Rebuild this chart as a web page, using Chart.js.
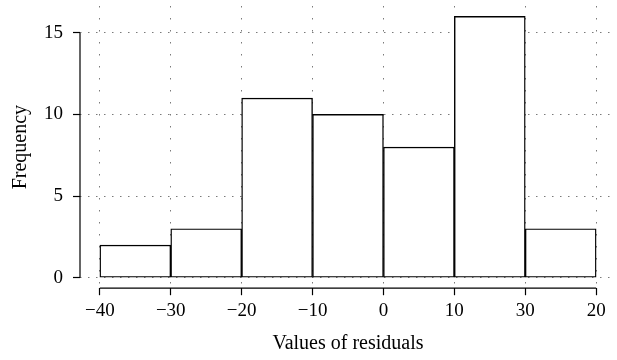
<!DOCTYPE html>
<html><head><meta charset="utf-8">
<script src="https://cdn.jsdelivr.net/npm/chart.js@4/dist/chart.umd.min.js"></script>
<style>html,body{margin:0;padding:0;background:#fff}#wrap{width:617px;height:360px}</style>
</head><body><div id="wrap"><canvas id="c"></canvas></div>
<script>
const binEdgeLabels = ["\u221240","\u221230","\u221220","\u221210","0","10","30","20"];
const frequencies = [2, 3, 11, 10, 8, 16, 3];
const yTickValues = [0, 5, 10, 15];
const xTitle = "Values of residuals";
const yTitle = "Frequency";

const FONT = "'Liberation Serif', 'DejaVu Serif', serif";
const points = frequencies.map((v, i) => ({x: i + 0.5, y: v}));

const axisLines = {
  id: 'axisLines',
  afterDraw(chart) {
    const {ctx, chartArea, scales: {x, y}} = chart;
    ctx.save();
    ctx.strokeStyle = '#000';
    ctx.lineWidth = 1.2;
    ctx.beginPath();
    ctx.moveTo(chartArea.left, y.getPixelForValue(yTickValues[0]));
    ctx.lineTo(chartArea.left, y.getPixelForValue(yTickValues[yTickValues.length - 1]));
    ctx.moveTo(x.getPixelForValue(0), chartArea.bottom);
    ctx.lineTo(x.getPixelForValue(binEdgeLabels.length - 1), chartArea.bottom);
    ctx.stroke();
    ctx.restore();
  }
};

new Chart(document.getElementById('c'), {
  type: 'bar',
  data: {
    datasets: [{
      data: points,
      backgroundColor: '#ffffff',
      borderColor: '#000000',
      borderWidth: 1.4,
      borderSkipped: false,
      barPercentage: 1,
      categoryPercentage: 1
    }]
  },
  options: {
    responsive: true,
    maintainAspectRatio: false,
    animation: false,
    events: [],
    layout: {padding: {left: 5, right: 1, top: 6, bottom: 0}},
    plugins: {legend: {display: false}, tooltip: {enabled: false}},
    scales: {
      x: {
        type: 'linear',
        offset: false,
        min: -0.28,
        max: 7.28,
        afterBuildTicks(s) { s.ticks = binEdgeLabels.map((_, i) => ({value: i})); },
        afterFit(s) { s.paddingLeft = 0; s.paddingRight = 0; },
        ticks: {
          color: '#000',
          font: {family: FONT, size: 19},
          padding: 4,
          maxRotation: 0,
          autoSkip: false,
          callback: (v) => binEdgeLabels[v]
        },
        grid: {
          offset: false,
          color: '#7a7a7a',
          lineWidth: 1,
          drawTicks: true,
          tickLength: 7,
          tickColor: '#000',
          tickWidth: 1.2,
          tickBorderDash: []
        },
        border: {display: false, dash: [1.5, 10.5]},
        title: {display: true, text: xTitle, color: '#000', font: {family: FONT, size: 20}, padding: {top: 6, bottom: 4}}
      },
      y: {
        min: -0.64,
        max: 16.64,
        afterBuildTicks(s) { s.ticks = yTickValues.map(v => ({value: v})); },
        afterFit(s) { s.paddingTop = 0; s.paddingBottom = 0; },
        ticks: {
          color: '#000',
          font: {family: FONT, size: 19},
          padding: 10
        },
        grid: {
          color: '#7a7a7a',
          lineWidth: 1,
          drawTicks: true,
          tickLength: 7,
          tickColor: '#000',
          tickWidth: 1.2,
          tickBorderDash: []
        },
        border: {display: false, dash: [1.5, 6.5]},
        title: {display: true, text: yTitle, color: '#000', font: {family: FONT, size: 20}, padding: {top: 4, bottom: 1}}
      }
    }
  },
  plugins: [axisLines]
});
</script>
</body></html>
